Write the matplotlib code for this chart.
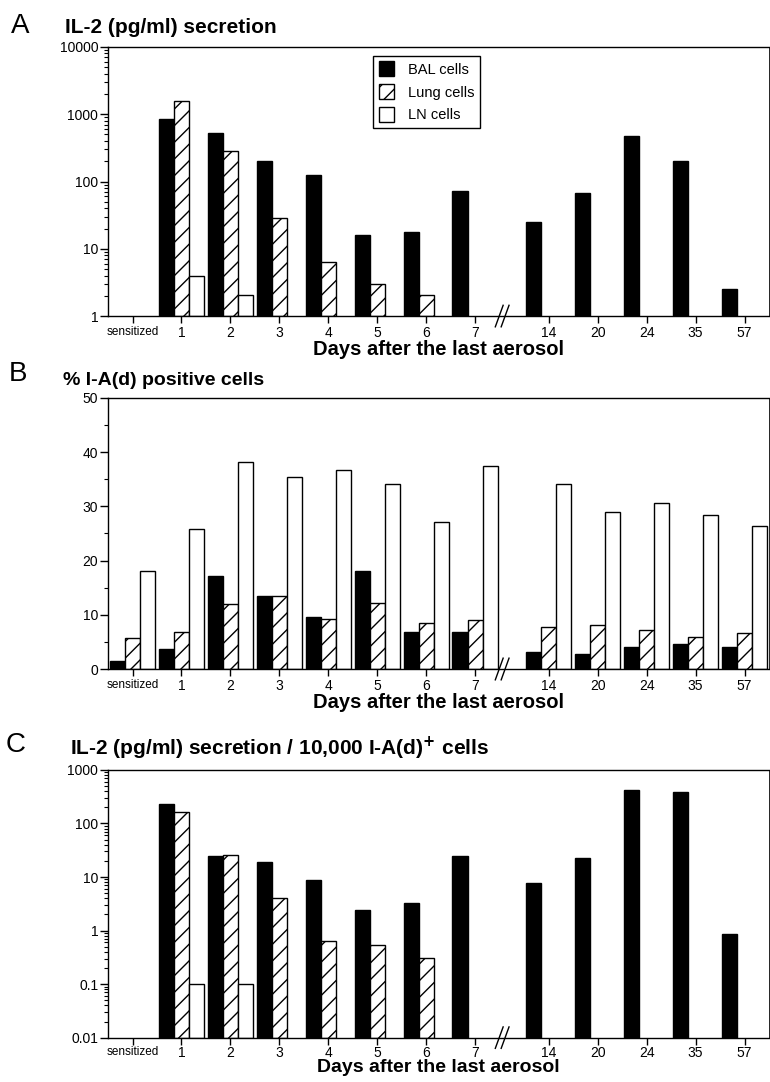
import numpy as np
import matplotlib.pyplot as plt
from matplotlib.ticker import FuncFormatter, MultipleLocator, LogLocator

nan = np.nan

# categories (days after the last aerosol)
days = ['sensitized', '1', '2', '3', '4', '5', '6', '7', '14', '20', '24', '35', '57']
series = ['BAL cells', 'Lung cells', 'LN cells']

# A: IL-2 (pg/ml) secretion
il2_bal = [nan, 850, 520, 200, 125, 16, 17.5, 72, 25, 68, 470, 205, 2.5]
il2_lung = [nan, 1600, 285, 29, 6.3, 3.0, 2.05, nan, nan, nan, nan, nan, nan]
il2_ln = [nan, 4.0, 2.05, nan, nan, nan, nan, nan, nan, nan, nan, nan, nan]

# B: % I-A(d) positive cells
pct_bal = [1.5, 3.6, 17.2, 13.4, 9.6, 18.1, 6.9, 6.9, 3.1, 2.8, 4.0, 4.6, 4.1]
pct_lung = [5.8, 6.8, 11.9, 13.4, 9.2, 12.1, 8.5, 9.0, 7.7, 8.2, 7.2, 5.9, 6.6]
pct_ln = [18.1, 25.8, 38.1, 35.5, 36.8, 34.2, 27.1, 37.4, 34.2, 29.0, 30.6, 28.5, 26.3]

# C: IL-2 secretion / 10,000 I-A(d)+ cells
norm_bal = [nan, 227, 24.4, 19.1, 8.7, 2.46, 3.3, 24.7, 7.9, 23, 416, 380, 0.85]
norm_lung = [nan, 166, 25.7, 4.0, 0.65, 0.545, 0.31, nan, nan, nan, nan, nan, nan]
norm_ln = [nan, 0.1, 0.1, nan, nan, nan, nan, nan, nan, nan, nan, nan, nan]

plt.rcParams['font.family'] = ['Liberation Sans', 'DejaVu Sans']
plt.rcParams['hatch.linewidth'] = 1.0

# gap after day 7 for the axis break
idx = np.arange(len(days))
x = idx + 0.5 * (idx >= 8)
w = 0.31

fig = plt.figure(figsize=(7.7, 10.82), dpi=100)
axA = fig.add_axes([0.1403, 0.7079, 0.8584, 0.2487])
axB = fig.add_axes([0.1403, 0.3817, 0.8584, 0.2505])
axC = fig.add_axes([0.1403, 0.0410, 0.8584, 0.2474])


def draw_bars(ax, vals, bottom):
    styles = [dict(color='black', edgecolor='black'),
              dict(color='white', edgecolor='black', hatch='//'),
              dict(color='white', edgecolor='black')]
    for k, (v, st) in enumerate(zip(vals, styles)):
        ax.bar(x + (k - 1) * w, np.array(v, float) - bottom, w, bottom=bottom,
               linewidth=1.0, label=series[k], **st)


def style_axis(ax, labelpad=0, labelsize=14.5, xpad=2):
    ax.set_xlim(-0.5, 13.0)
    ax.set_xticks(x)
    ax.set_xticklabels(days)
    for lab in ax.get_xticklabels():
        lab.set_fontsize(10)
    ax.get_xticklabels()[0].set_fontsize(8.5)
    ax.tick_params(axis='x', direction='out', length=5, width=1, pad=xpad)
    ax.tick_params(axis='y', which='major', direction='out', length=6, width=1,
                   labelsize=10, pad=1)
    ax.tick_params(axis='y', which='minor', direction='out', length=3, width=0.8)
    for s in ax.spines.values():
        s.set_linewidth(1.0)
    ax.spines['right'].set_linewidth(0.6)
    ax.set_xlabel('Days after the last aerosol', fontsize=labelsize,
                  fontweight='bold', labelpad=labelpad)
    # axis break marks
    tr = ax.get_xaxis_transform()
    for off in (-0.06, 0.06):
        ax.plot([7.47 + off, 7.63 + off], [-0.04, 0.04], color='black', lw=1.0,
                transform=tr, clip_on=False)


fmt = FuncFormatter(lambda v, p: '{:g}'.format(v))

# Panel A
draw_bars(axA, [il2_bal, il2_lung, il2_ln], 1)
axA.set_yscale('log')
axA.set_ylim(1, 10000)
axA.yaxis.set_major_formatter(fmt)
axA.yaxis.set_minor_locator(LogLocator(base=10, subs=np.arange(2, 10)))
style_axis(axA)
leg = axA.legend(loc='upper left', bbox_to_anchor=(0.39, 0.995), fontsize=10.5,
                 fancybox=False, edgecolor='black', framealpha=1,
                 handlelength=1.0, handleheight=1.2, handletextpad=1.0,
                 labelspacing=0.5, borderpad=0.4)
leg.get_frame().set_linewidth(1.0)

# Panel B
draw_bars(axB, [pct_bal, pct_lung, pct_ln], 0)
axB.set_ylim(0, 50)
axB.yaxis.set_major_locator(MultipleLocator(10))
axB.yaxis.set_minor_locator(MultipleLocator(5))
style_axis(axB)

# Panel C
draw_bars(axC, [norm_bal, norm_lung, norm_ln], 0.01)
axC.set_yscale('log')
axC.set_ylim(0.01, 1000)
axC.yaxis.set_major_formatter(fmt)
axC.yaxis.set_minor_locator(LogLocator(base=10, subs=np.arange(2, 10)))
style_axis(axC, labelpad=-1, labelsize=14, xpad=1)

# panel letters and titles
fig.text(0.026, 0.976, 'A', fontsize=20, va='center', ha='center')
fig.text(0.084, 0.975, 'IL-2 (pg/ml) secretion', fontsize=15, fontweight='bold',
         va='center')
fig.text(0.024, 0.654, 'B', fontsize=20, va='center', ha='center')
fig.text(0.082, 0.648, '% I-A(d) positive cells', fontsize=14, fontweight='bold',
         va='center')
fig.text(0.020, 0.311, 'C', fontsize=20, va='center', ha='center')
fig.text(0.091, 0.308, 'IL-2 (pg/ml) secretion / 10,000 I-A(d)$^{\\mathbf{+}}$ cells',
         fontsize=15, fontweight='bold', va='center')

fig.savefig('out.png', dpi=100)
